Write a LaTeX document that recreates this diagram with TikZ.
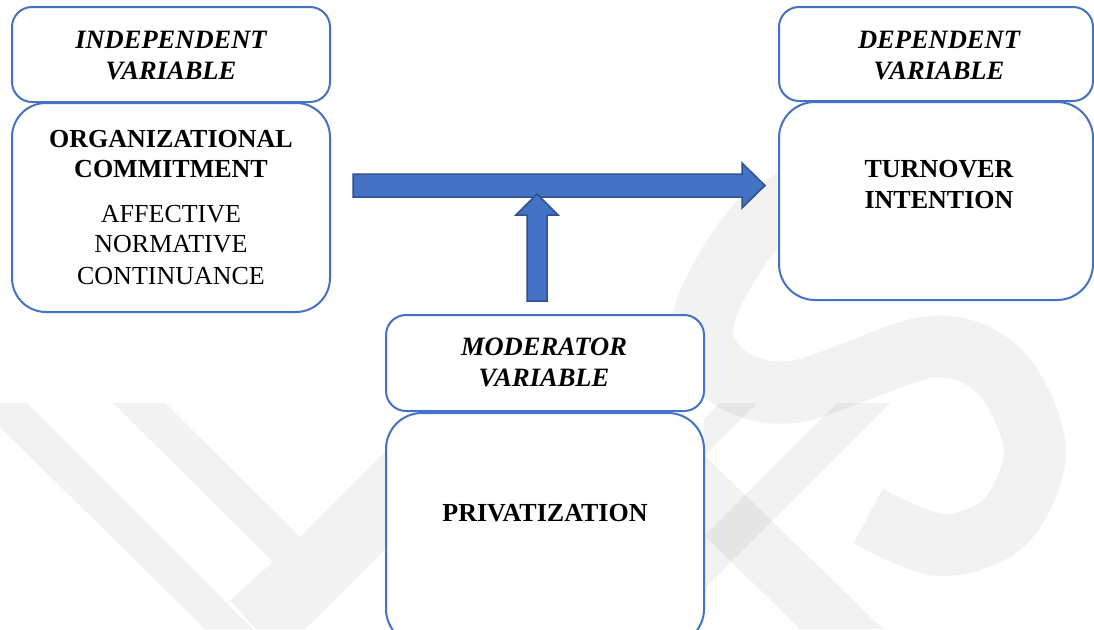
\documentclass[tikz,border=0pt]{standalone}
\usepackage{fontspec}
\setmainfont{Liberation Serif}
\usetikzlibrary{calc}
\definecolor{boxblue}{RGB}{68,114,196}
\definecolor{arrowfill}{RGB}{68,114,196}
\definecolor{arrowedge}{RGB}{47,82,143}
\begin{document}
\begin{tikzpicture}[x=1pt,y=-1pt,
  box/.style={draw=boxblue,line width=2pt,fill=white,rounded corners=#1,inner sep=0pt,outer sep=0pt},
  labeltext/.style={anchor=base,inner sep=0pt,font=\fontsize{26.5}{31}\selectfont\bfseries\itshape},
  maintext/.style={anchor=base,inner sep=0pt,font=\fontsize{26}{31}\selectfont\bfseries},
  subtext/.style={anchor=base,inner sep=0pt,font=\fontsize{26}{31}\selectfont},
  blockarrow/.style={fill=arrowfill,draw=arrowedge,line width=1.5pt,line join=miter},
  wm/.style={fill=black,fill opacity=0.05,draw=none},
  wmline/.style={draw=black,draw opacity=0.05,line width=62pt}]
\useasboundingbox (0,0) rectangle (1094,629);
\clip (0,0) rectangle (1094,629);
% watermark
\fill[wm] (0,403) -- (27,403) -- (253,629) -- (205,629) -- (0,427) -- cycle;
\fill[wm] (113,403) -- (165,403) -- (300,537) -- (273,562) -- cycle;
\fill[wm] (230,600) -- (273,562) -- (300,537) -- (386,451) -- (386,548) -- (305,629) -- (256,629) -- cycle;
\fill[wm] (704,455) -- (883,629) -- (800,629) -- (704,535) -- cycle;
\fill[wm] (837,403) -- (890,403) -- (704,589) -- (704,536) -- cycle;
\fill[wm] (720,403) -- (757,403) -- (704,456) -- (704,419) -- cycle;
\draw[wmline] plot[smooth,tension=0.55] coordinates {(840,180) (760,222) (704,316) (722,372) (793,392) (930,347) (1000,372) (1035,450) (1005,522) (940,545) (868,516)};
% boxes
\node[box=20pt,minimum width=318pt,minimum height=95pt] (ivl) at (171,54.5) {};
\node[box=34pt,minimum width=318pt,minimum height=209pt] (ivm) at (171,207.5) {};
\node[box=20pt,minimum width=314pt,minimum height=94pt] (dvl) at (936,54) {};
\node[box=36pt,minimum width=314pt,minimum height=198pt] (dvm) at (936,201) {};
\node[box=20pt,minimum width=318pt,minimum height=96pt] (mvl) at (545,363) {};
\node[box=36pt,minimum width=318pt,minimum height=232pt] (mvm) at (545,529) {};
% texts
\node[labeltext] (ivl1) at (171,48) {INDEPENDENT};
\node[labeltext] (ivl2) at (171,79) {VARIABLE};
\node[maintext] (ivm1) at (171,147) {ORGANIZATIONAL};
\node[maintext] (ivm2) at (171,177) {COMMITMENT};
\node[subtext] (ivm3) at (171,222) {AFFECTIVE};
\node[subtext] (ivm4) at (171,252) {NORMATIVE};
\node[subtext] (ivm5) at (171,284) {CONTINUANCE};
\node[labeltext] (dvl1) at (939,48) {DEPENDENT};
\node[labeltext] (dvl2) at (939,79) {VARIABLE};
\node[maintext] (dvm1) at (939,177) {TURNOVER};
\node[maintext] (dvm2) at (939,208) {INTENTION};
\node[labeltext] (mvl1) at (544,355) {MODERATOR};
\node[labeltext] (mvl2) at (544,386) {VARIABLE};
\node[maintext] (mvm1) at (545,521) {PRIVATIZATION};
% arrows
\coordinate (hs) at (353,185.5);
\coordinate (he) at (765,185.5);
\coordinate (vs) at (537,301);
\coordinate (ve) at (537,194);
\draw[blockarrow] ($(hs)+(0,-11.5)$) -- ($(he)+(-23,-11.5)$) -- ($(he)+(-23,-22.5)$) -- (he)
  -- ($(he)+(-23,22.5)$) -- ($(he)+(-23,11.5)$) -- ($(hs)+(0,11.5)$) -- cycle;
\draw[blockarrow] ($(vs)+(-10,0)$) -- ($(ve)+(-10,21)$) -- ($(ve)+(-21,21)$) -- (ve)
  -- ($(ve)+(21,21)$) -- ($(ve)+(10,21)$) -- ($(vs)+(10,0)$) -- cycle;
\end{tikzpicture}
\end{document}
